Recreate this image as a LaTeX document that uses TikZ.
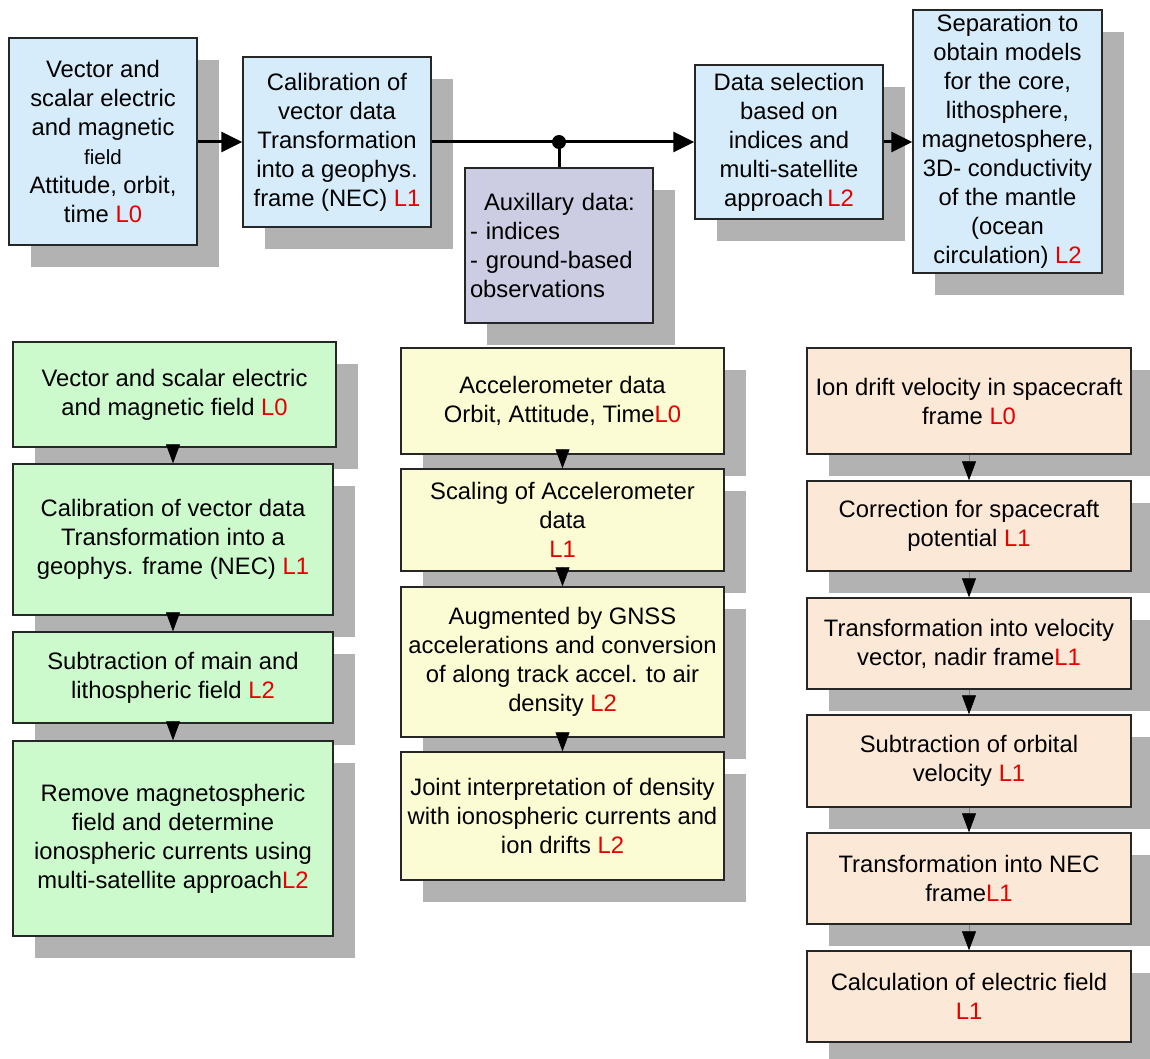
\documentclass[tikz,border=0pt]{standalone}
\usepackage{fontspec}
\setmainfont{Liberation Sans}
\usetikzlibrary{arrows.meta,shadows}
\definecolor{cblue}{RGB}{214,236,250}
\definecolor{caux}{RGB}{204,204,226}
\definecolor{cgreen}{RGB}{204,250,204}
\definecolor{cyellow}{RGB}{252,252,212}
\definecolor{corange}{RGB}{252,232,214}
\definecolor{shgray}{RGB}{178,178,178}
\definecolor{lvred}{RGB}{230,0,0}
\newcommand{\lv}[1]{\textcolor{lvred}{#1}}
\begin{document}
\begin{tikzpicture}[x=1pt,y=-1pt,
  box/.style={draw=black!85, line width=1.4pt, inner sep=0pt, align=center,
    font=\fontsize{23.8}{29}\selectfont,
    drop shadow={shadow xshift=22pt, shadow yshift=-22pt, fill=shgray, opacity=1, draw=none}},
  bbox/.style={box, fill=cblue},
  abox/.style={box, fill=caux},
  gbox/.style={box, fill=cgreen},
  ybox/.style={box, fill=cyellow},
  obox/.style={box, fill=corange},
  topline/.style={line width=3pt, -{Triangle[length=21pt,width=20pt]}},
  downarr/.style={line width=0.6pt, draw=gray, -{Triangle[length=19pt,width=14pt,color=black]}}
]
\useasboundingbox (0,0) rectangle (1150,1059);
\fill[white] (0,0) rectangle (1150,1059);

% top row
\node[bbox, minimum width=188pt, minimum height=207pt] (B1) at (103,141.5)
  {Vector and\\scalar electric\\and magnetic\\{\fontsize{20.5}{29}\selectfont field}\\Attitude, orbit,\\time \lv{L0}};
\node[bbox, minimum width=188pt, minimum height=170pt] (B2) at (337,142)
  {Calibration of\\vector data\\Transformation\\into a geophys.\\frame (NEC) \lv{L1}};
\node[abox, minimum height=155pt, text width=178pt, inner xsep=5pt, align=left] (AUX) at (559,245.5)
  {\hspace*{14pt}Auxillary data:\\- indices\\- ground-based\\observations};
\node[bbox, minimum width=188pt, minimum height=154pt] (DS) at (789,142)
  {Data selection\\based on\\indices and\\multi-satellite\\approach\,\lv{L2}};
\node[bbox, minimum width=189pt, minimum height=263pt] (SEP) at (1007.5,141.5)
  {Separation to\\obtain models\\for the core,\\lithosphere,\\magnetosphere,\\3D- conductivity\\of the mantle\\(ocean\\circulation) \lv{L2}};

\node[circle, fill=black, inner sep=0pt, minimum size=14pt] (J) at (559,142) {};
\draw[topline] (B1.east |- B2.west) -- (B2.west);
\draw[topline] (B2.east) -- (DS.west);
\draw[line width=3pt] (J.center) -- (AUX.north);
\draw[topline] (DS.east) -- (SEP.west |- DS.east);

% green column
\node[gbox, minimum width=323pt, minimum height=105pt] (G1) at (174.5,394.5)
  {Vector and scalar electric\\and magnetic field \lv{L0}};
\node[gbox, minimum width=320pt, minimum height=151pt] (G2) at (173,539.5)
  {Calibration of vector data\\Transformation into a\\geophys. frame (NEC) \lv{L1}};
\node[gbox, minimum width=320pt, minimum height=91pt] (G3) at (173,677.5)
  {Subtraction of main and\\lithospheric field \lv{L2}};
\node[gbox, minimum width=320pt, minimum height=195pt] (G4) at (173,838.5)
  {Remove magnetospheric\\field and determine\\ionospheric currents using\\multi-satellite approach\lv{L2}};

% yellow column
\node[ybox, minimum width=323pt, minimum height=106pt] (Y1) at (562.5,401)
  {Accelerometer data\\Orbit, Attitude, Time\lv{L0}};
\node[ybox, minimum width=323pt, minimum height=102pt] (Y2) at (562.5,520)
  {Scaling of Accelerometer\\data\\\lv{L1}};
\node[ybox, minimum width=323pt, minimum height=150pt] (Y3) at (562.5,662)
  {Augmented by GNSS\\accelerations and conversion\\of along track accel. to air\\density \lv{L2}};
\node[ybox, minimum width=323pt, minimum height=128pt] (Y4) at (562.5,816)
  {Joint interpretation of density\\with ionospheric currents and\\ion drifts \lv{L2}};

% orange column
\node[obox, minimum width=324pt, minimum height=106pt] (O1) at (969,401)
  {Ion drift velocity in spacecraft\\frame \lv{L0}};
\node[obox, minimum width=324pt, minimum height=90pt] (O2) at (969,526)
  {Correction for spacecraft\\potential \lv{L1}};
\node[obox, minimum width=324pt, minimum height=91pt] (O3) at (969,643.5)
  {Transformation into velocity\\vector, nadir frame\lv{L1}};
\node[obox, minimum width=324pt, minimum height=92pt] (O4) at (969,761)
  {Subtraction of orbital\\velocity \lv{L1}};
\node[obox, minimum width=324pt, minimum height=91pt] (O5) at (969,878.5)
  {Transformation into NEC\\frame\lv{L1}};
\node[obox, minimum width=324pt, minimum height=91pt] (O6) at (969,996.5)
  {Calculation of electric field\\\lv{L1}};

% vertical arrows
\draw[downarr] ([yshift=3pt]G1.south -| G2.north) -- (G2.north);
\draw[downarr] ([yshift=3pt]G2.south) -- (G3.north);
\draw[downarr] ([yshift=3pt]G3.south) -- (G4.north);
\draw[downarr] ([yshift=5pt]Y1.south) -- (Y2.north);
\draw[downarr] ([yshift=5pt]Y2.south) -- (Y3.north);
\draw[downarr] ([yshift=5pt]Y3.south) -- (Y4.north);
\draw[downarr] (O1.south) -- (O2.north);
\draw[downarr] (O2.south) -- (O3.north);
\draw[downarr] (O3.south) -- (O4.north);
\draw[downarr] (O4.south) -- (O5.north);
\draw[downarr] (O5.south) -- (O6.north);
\end{tikzpicture}
\end{document}
